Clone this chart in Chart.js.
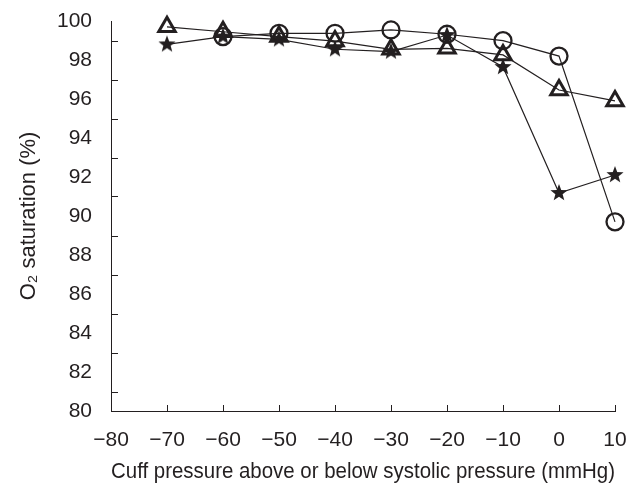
<!DOCTYPE html>
<html>
<head>
<meta charset="utf-8">
<script src="https://cdn.jsdelivr.net/npm/chart.js@4/dist/chart.umd.min.js"></script>
<style>
  html, body { margin: 0; padding: 0; background: #fff; }
  #wrap { width: 629px; height: 486px; }
</style>
</head>
<body>
<div id="wrap"><canvas id="chart" width="629" height="486"></canvas></div>
<script>
// cuff pressure relative to systolic (mmHg)
const pressures = [-70, -60, -50, -40, -30, -20, -10, 0, 10];

// O2 saturation (%) per series
const triangleSeries = [99.7, 99.45, 99.2, 98.97, 98.55, 98.6, 98.26, 96.46, 95.9];
const circleSeries = [null, 99.2, 99.37, 99.37, 99.54, 99.32, 98.99, 98.2, 89.7];
const starSeries = [98.8, 99.2, 99.06, 98.55, 98.43, 99.28, 97.64, 91.18, 92.1];

// where the little inward tick marks sit
const xTickMarks = [-70, -60, -50, -40, -30, -20, -10, 0, 10];
const yTickMarks = [81, 83, 85, 87, 89, 91, 93, 95, 97, 99];

const INK = '#231f20';
const FONT = "'Liberation Sans', Arial, Helvetica, sans-serif";

// filled five point star used as the marker
function makeStar(outer, inner) {
  const size = Math.ceil(outer * 2) + 2;
  const c = document.createElement('canvas');
  c.width = size;
  c.height = size;
  const g = c.getContext('2d');
  g.fillStyle = INK;
  g.beginPath();
  for (let i = 0; i < 10; i++) {
    const r = i % 2 === 0 ? outer : inner;
    const a = -Math.PI / 2 + i * Math.PI / 5;
    const px = size / 2 + r * Math.cos(a);
    const py = size / 2 + r * Math.sin(a);
    if (i === 0) g.moveTo(px, py); else g.lineTo(px, py);
  }
  g.closePath();
  g.fill();
  return c;
}
const starImg = makeStar(9, 3.8);

const toPoints = (vals) => pressures
  .map((x, i) => ({ x: x, y: vals[i] }))
  .filter(p => p.y !== null);

// draw short tick marks pointing into the plot
const innerTicks = {
  id: 'innerTicks',
  afterDraw(chart) {
    const { ctx, chartArea, scales } = chart;
    ctx.save();
    ctx.strokeStyle = INK;
    ctx.lineWidth = 1;
    ctx.beginPath();
    xTickMarks.forEach(v => {
      const px = Math.round(scales.x.getPixelForValue(v)) + 0.5;
      ctx.moveTo(px, chartArea.bottom);
      ctx.lineTo(px, chartArea.bottom - 6);
    });
    yTickMarks.forEach(v => {
      const py = Math.round(scales.y.getPixelForValue(v)) + 0.5;
      ctx.moveTo(chartArea.left, py);
      ctx.lineTo(chartArea.left + 7, py);
    });
    ctx.stroke();
    ctx.restore();
  }
};

// fixed axis boxes, no extra room for overhanging labels
const fixBox = (w, h) => (s) => {
  if (w) s.width = w;
  if (h) s.height = h;
  s.paddingTop = 0;
  s.paddingBottom = 0;
  s.paddingLeft = 0;
  s.paddingRight = 0;
};

const common = {
  borderColor: INK,
  borderWidth: 1.2,
  showLine: true,
  fill: false,
  tension: 0,
  clip: false,
  pointBackgroundColor: 'rgba(0,0,0,0)',
  pointBorderColor: INK
};

new Chart(document.getElementById('chart').getContext('2d'), {
  type: 'scatter',
  data: {
    datasets: [
      Object.assign({}, common, {
        label: 'triangle',
        data: toPoints(triangleSeries),
        pointStyle: 'triangle',
        pointRadius: 9.5,
        pointBorderWidth: 3
      }),
      Object.assign({}, common, {
        label: 'circle',
        data: toPoints(circleSeries),
        pointStyle: 'circle',
        pointRadius: 8.5,
        pointBorderWidth: 2.3
      }),
      Object.assign({}, common, {
        label: 'star',
        data: toPoints(starSeries),
        pointStyle: starImg,
        pointRadius: 9
      })
    ]
  },
  options: {
    responsive: false,
    animation: false,
    layout: { padding: { top: 21, right: 14, left: 0, bottom: 0 } },
    plugins: {
      legend: { display: false },
      tooltip: { enabled: false }
    },
    scales: {
      x: {
        type: 'linear',
        min: -80,
        max: 10,
        afterFit: fixBox(0, 75),
        grid: { display: false, drawTicks: false },
        border: { display: true, color: INK, width: 1 },
        ticks: {
          stepSize: 10,
          padding: 17,
          color: INK,
          font: { family: FONT, size: 21 },
          callback: (v) => String(v).replace('-', '\u2212')
        },
        title: {
          display: true,
          text: 'Cuff pressure above or below systolic pressure (mmHg)',
          color: INK,
          font: { family: FONT, size: 21.5 },
          padding: { top: 0, bottom: 1 }
        }
      },
      y: {
        type: 'linear',
        min: 80,
        max: 100,
        afterFit: fixBox(111, 0),
        grid: { display: false, drawTicks: false },
        border: { display: true, color: INK, width: 1 },
        ticks: {
          stepSize: 2,
          padding: 19,
          color: INK,
          font: { family: FONT, size: 21 }
        },
        title: {
          display: true,
          text: 'O\u2082 saturation (%)',
          color: INK,
          font: { family: FONT, size: 22 },
          padding: { top: 16, bottom: 0 }
        }
      }
    }
  },
  plugins: [innerTicks]
});
</script>
</body>
</html>
